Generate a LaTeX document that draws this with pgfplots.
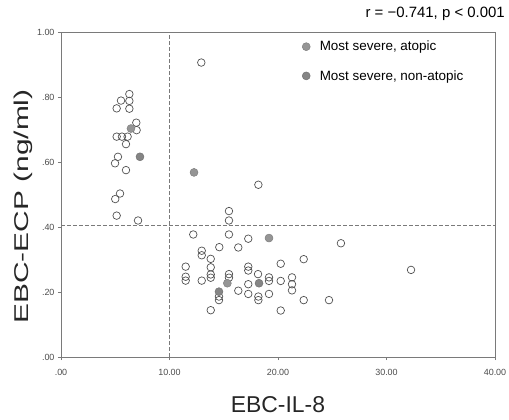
\documentclass[border=0pt]{standalone}
\usepackage{pgfplots}
\pgfplotsset{compat=1.18}
\usepackage{fontspec}
\setmainfont{Liberation Sans}
\definecolor{axgray}{HTML}{7A7A7A}
\definecolor{opengray}{HTML}{505050}
\definecolor{fillA}{HTML}{959595}
\definecolor{fillB}{HTML}{858585}
\begin{document}
\begin{tikzpicture}
\begin{axis}[
  at={(0,0)}, anchor=south west,
  scale only axis, width=434bp, height=325bp,
  xmin=0, xmax=40, ymin=0, ymax=1,
  xtick={0,10,20,30,40},
  xticklabels={.00,10.00,20.00,30.00,40.00},
  ytick={0,0.2,0.4,0.6,0.8,1},
  yticklabels={.00,.20,.40,.60,.80,1.00},
  tick align=outside, tick pos=left, major tick length=3bp,
  axis line style={axgray, line width=0.8pt},
  tick style={axgray, line width=0.6pt},
  ticklabel style={font=\fontsize{9}{10}\selectfont, text=black!70},
  xticklabel style={yshift=-6bp},
  xlabel={EBC-IL-8},
  ylabel={\scalebox{1.5}[1]{EBC-ECP (ng/ml)}},
  xlabel style={font=\fontsize{23}{25}\selectfont, text=black!85,
    at={(axis description cs:0.5,-0.145)}, anchor=center},
  ylabel style={font=\fontsize{20}{22}\selectfont, text=black!85,
    at={(axis description cs:-0.086,0.463)}, anchor=center},
  legend style={at={(rel axis cs:0.5465,0.985)}, anchor=north west, draw=none, fill=none,
    font=\fontsize{13.5}{15}\selectfont, row sep=14bp, inner sep=2pt},
  legend cell align=left,
  legend image code/.code={\draw plot coordinates {(0.2cm,0cm)}; \path (0cm,0cm) (0.6cm,0cm);},
  clip=false,
]
\draw[axgray, dashed, dash pattern=on 4bp off 2bp, line width=0.8pt] (axis cs:10,0) -- (axis cs:10,1);
\draw[axgray, dashed, dash pattern=on 4bp off 2bp, line width=0.8pt] (axis cs:0,0.405) -- (axis cs:40,0.405);

\addplot[only marks, mark=o, mark size=3.8pt, mark options={draw=opengray, line width=0.7pt}, forget plot]
coordinates {
(5.13,0.765)(5.53,0.789)(6.3,0.788)(6.3,0.809)(6.3,0.764)
(6.94,0.721)(6.97,0.698)(5.13,0.678)(5.62,0.678)(6.14,0.678)
(5.99,0.655)(5.25,0.616)(4.98,0.596)(5.99,0.575)(5.44,0.503)
(5.0,0.486)(5.13,0.435)(7.1,0.42)(12.93,0.906)
(18.19,0.530)(15.48,0.449)(15.48,0.420)(12.19,0.377)(15.48,0.377)
(17.26,0.364)(25.8,0.350)(14.59,0.338)(16.34,0.337)(12.97,0.327)
(12.97,0.313)(13.8,0.302)(22.37,0.301)(20.25,0.287)(11.49,0.278)
(17.26,0.278)(13.8,0.276)(17.26,0.266)(18.16,0.255)(15.48,0.255)
(13.8,0.254)(11.49,0.247)(13.8,0.244)(19.17,0.245)(21.29,0.245)
(15.48,0.244)(11.49,0.235)(12.97,0.235)(19.17,0.234)(20.25,0.234)
(17.26,0.224)(21.29,0.224)(21.29,0.205)(16.34,0.204)(17.26,0.194)
(19.17,0.194)(14.56,0.186)(18.19,0.186)(14.56,0.175)(18.19,0.175)
(22.37,0.175)(24.7,0.175)(13.8,0.144)(20.25,0.143)(32.26,0.268)
};

\addplot[only marks, mark=*, mark size=4pt, mark options={draw=fillA!85!black, fill=fillA, line width=0.5pt}]
coordinates {(6.45,0.703)(12.26,0.568)(19.17,0.366)(15.33,0.227)};
\addlegendentry{Most severe, atopic}
\addplot[only marks, mark=*, mark size=4pt, mark options={draw=fillB!85!black, fill=fillB, line width=0.5pt}]
coordinates {(7.28,0.616)(18.25,0.227)(14.56,0.201)};
\addlegendentry{Most severe, non-atopic}

\node[anchor=east, font=\fontsize{15}{17}\selectfont, inner sep=0pt] at (rel axis cs:1,1) [xshift=10bp, yshift=18bp] {r = −0.741, p < 0.001};
\end{axis}
\pgfresetboundingbox
\path[use as bounding box] (-61bp,-63bp) rectangle (448bp,357bp);
\end{tikzpicture}
\end{document}
